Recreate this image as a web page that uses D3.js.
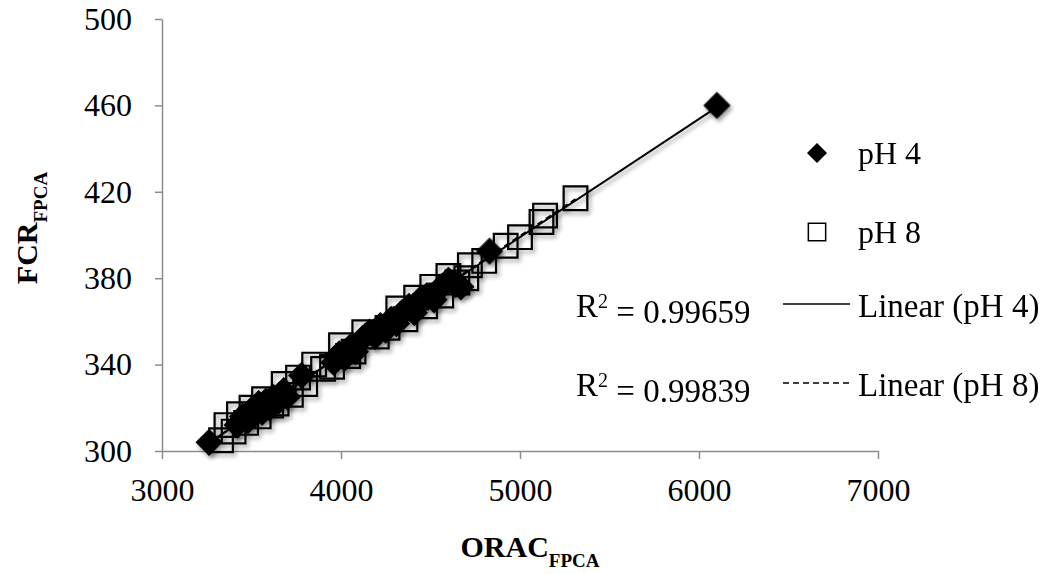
<!DOCTYPE html>
<html>
<head>
<meta charset="utf-8">
<script src="https://cdn.jsdelivr.net/npm/d3@7"></script>
<style>
  body { margin: 0; background: #fff; }
  svg text { font-family: "Liberation Serif", "DejaVu Serif", serif; fill: #000; }
</style>
</head>
<body>
<div id="chart"></div>
<script>
// pH 4 series (ORAC, FCR)
const ph4X = [3263, 3420, 3450, 3480, 3500, 3520, 3540, 3560, 3580, 3600, 3620, 3650, 3680, 3700,
  3780, 3960, 3990, 4020, 4050, 4080, 4120, 4160, 4190, 4220, 4250, 4280, 4310, 4340, 4380,
  4410, 4440, 4480, 4520, 4560, 4600, 4640, 4670, 4830, 6100];
const ph4Y = [304, 312, 316, 314, 319, 317, 322, 318, 323, 320, 325, 323, 328, 325,
  335, 341, 345, 343, 348, 346, 352, 355, 353, 358, 356, 361, 359, 364, 367,
  364, 370, 372, 370, 376, 379, 377, 376, 392.5, 460];

// pH 8 series
const ph8X = [3330, 3360, 3400, 3430, 3470, 3500, 3540, 3570, 3610, 3640, 3680, 3720, 3760, 3800,
  3850, 3900, 3950, 4000, 4040, 4070, 4130, 4200, 4260, 4320, 4360, 4420, 4470, 4510, 4560,
  4600, 4650, 4700, 4720, 4800, 4920, 5000, 5120, 5140, 5310];
const ph8Y = [305, 312, 309, 317, 313, 320, 316, 324, 321, 322, 331, 326, 334, 331,
  340, 338, 339, 349, 344, 346, 355, 353, 357, 366, 361, 371, 367, 376, 372,
  381, 378, 380, 386, 388, 395, 399, 406, 409, 417];

const xTicks = [3000, 4000, 5000, 6000, 7000];
const yTicks = [300, 340, 380, 420, 460, 500];
const seriesNames = ['pH 4', 'pH 8'];
const r2Values = ['0.99659', '0.99839'];
const trendNames = ['Linear (pH 4)', 'Linear (pH 8)'];

const W = 1043, H = 574;
const margin = { top: 19, left: 162 };
const plotW = 716, plotH = 432;

const svg = d3.select('#chart').append('svg')
  .attr('width', W)
  .attr('height', H);

// drop shadow like the office chart markers
const defs = svg.append('defs');
defs.append('filter')
  .attr('id', 'shadow')
  .attr('x', '-50%').attr('y', '-50%').attr('width', '200%').attr('height', '200%')
  .append('feDropShadow')
  .attr('dx', 2).attr('dy', 3)
  .attr('stdDeviation', 2)
  .attr('flood-color', '#000')
  .attr('flood-opacity', 0.4);

const g = svg.append('g')
  .attr('transform', `translate(${margin.left},${margin.top})`);

const x = d3.scaleLinear().domain([3000, 7000]).range([0, plotW]);
const y = d3.scaleLinear().domain([300, 500]).range([plotH, 0]);

// Axes
const xAxis = g.append('g')
  .attr('transform', `translate(0,${plotH})`)
  .call(d3.axisBottom(x).tickValues(xTicks).tickSize(8).tickSizeOuter(0).tickPadding(19)
    .tickFormat(d3.format('d')));
const yAxis = g.append('g')
  .call(d3.axisLeft(y).tickValues(yTicks).tickSize(7).tickSizeOuter(0).tickPadding(23)
    .tickFormat(d3.format('d')));

[xAxis, yAxis].forEach(a => {
  a.select('.domain').attr('stroke', '#8c8c8c').attr('stroke-width', 1.5);
  a.selectAll('.tick line').attr('stroke', '#8c8c8c').attr('stroke-width', 1.5);
  a.selectAll('.tick text')
    .style('font-family', '"Liberation Serif", serif')
    .style('font-size', '32px')
    .attr('fill', '#000');
});

// Markers
const diamond = d3.symbol().type(d3.symbolSquare).size(370);
const square = d3.symbol().type(d3.symbolSquare).size(560);

const pts4 = ph4X.map((v, i) => ({ x: v, y: ph4Y[i] }));
const pts8 = ph8X.map((v, i) => ({ x: v, y: ph8Y[i] }));

g.append('g').attr('filter', 'url(#shadow)')
  .selectAll('path')
  .data(pts4)
  .enter()
  .append('path')
  .attr('d', diamond)
  .attr('transform', d => `translate(${x(d.x)},${y(d.y)}) rotate(45)`)
  .attr('fill', '#000');

g.append('g').attr('filter', 'url(#shadow)')
  .selectAll('path')
  .data(pts8)
  .enter()
  .append('path')
  .attr('d', square)
  .attr('transform', d => `translate(${x(d.x)},${y(d.y)})`)
  .attr('fill', 'none')
  .attr('stroke', '#000')
  .attr('stroke-width', 2.2);

// Linear trendlines (least squares on each series)
function fit(pts) {
  const mx = d3.mean(pts, d => d.x), my = d3.mean(pts, d => d.y);
  const b = d3.sum(pts, d => (d.x - mx) * (d.y - my)) / d3.sum(pts, d => (d.x - mx) ** 2);
  const a = my - b * mx;
  const [x0, x1] = d3.extent(pts, d => d.x);
  return [{ x: x0, y: a + b * x0 }, { x: x1, y: a + b * x1 }];
}
const line = d3.line().x(d => x(d.x)).y(d => y(d.y));

g.append('path')
  .datum(fit(pts8))
  .attr('d', line)
  .attr('fill', 'none')
  .attr('stroke', '#000')
  .attr('stroke-width', 2)
  .attr('stroke-dasharray', '6,4');

g.append('path')
  .datum(fit(pts4))
  .attr('d', line)
  .attr('fill', 'none')
  .attr('stroke', '#000')
  .attr('stroke-width', 2)
  .attr('filter', 'url(#shadow)');

// Axis titles
const xTitle = svg.append('text')
  .attr('x', 530)
  .attr('y', 557)
  .attr('text-anchor', 'middle')
  .style('font-size', '30px')
  .style('font-weight', 'bold');
xTitle.append('tspan').text('ORAC');
xTitle.append('tspan').attr('dy', 10).style('font-size', '19px').text('FPCA');

const yTitle = svg.append('text')
  .attr('transform', 'translate(37,228) rotate(-90)')
  .attr('text-anchor', 'middle')
  .style('font-size', '30px')
  .style('font-weight', 'bold');
yTitle.append('tspan').text('FCR');
yTitle.append('tspan').attr('dy', 10).style('font-size', '19px').text('FPCA');

// Legend
const legend = svg.append('g');
const legRows = [153, 232];
legend.append('path')
  .attr('d', d3.symbol().type(d3.symbolSquare).size(200))
  .attr('transform', `translate(817,${legRows[0]}) rotate(45)`)
  .attr('fill', '#000');
legend.append('path')
  .attr('d', d3.symbol().type(d3.symbolSquare).size(300))
  .attr('transform', `translate(817,${legRows[1]})`)
  .attr('fill', 'none')
  .attr('stroke', '#000')
  .attr('stroke-width', 1.5);
seriesNames.forEach((s, i) => {
  legend.append('text')
    .attr('x', 858)
    .attr('y', legRows[i])
    .attr('dy', '0.33em')
    .style('font-size', '32px')
    .text(s);
});

const trendRows = [306, 385];
trendNames.forEach((s, i) => {
  legend.append('line')
    .attr('x1', 783).attr('x2', 850)
    .attr('y1', trendRows[i] - 2).attr('y2', trendRows[i] - 2)
    .attr('stroke', '#000')
    .attr('stroke-width', 1.5)
    .attr('stroke-dasharray', i === 1 ? '6,4' : null);
  legend.append('text')
    .attr('x', 858)
    .attr('y', trendRows[i])
    .attr('dy', '0.33em')
    .style('font-size', '33px')
    .text(s);

  const r = legend.append('text')
    .attr('x', 576)
    .attr('y', trendRows[i])
    .attr('dy', '0.33em')
    .style('font-size', '33px');
  r.append('tspan').text('R');
  r.append('tspan').attr('dy', '-0.45em').style('font-size', '20px').text('2');
  r.append('tspan').attr('dy', '0.45em').text(` = ${r2Values[i]}`);
});
</script>
</body>
</html>
